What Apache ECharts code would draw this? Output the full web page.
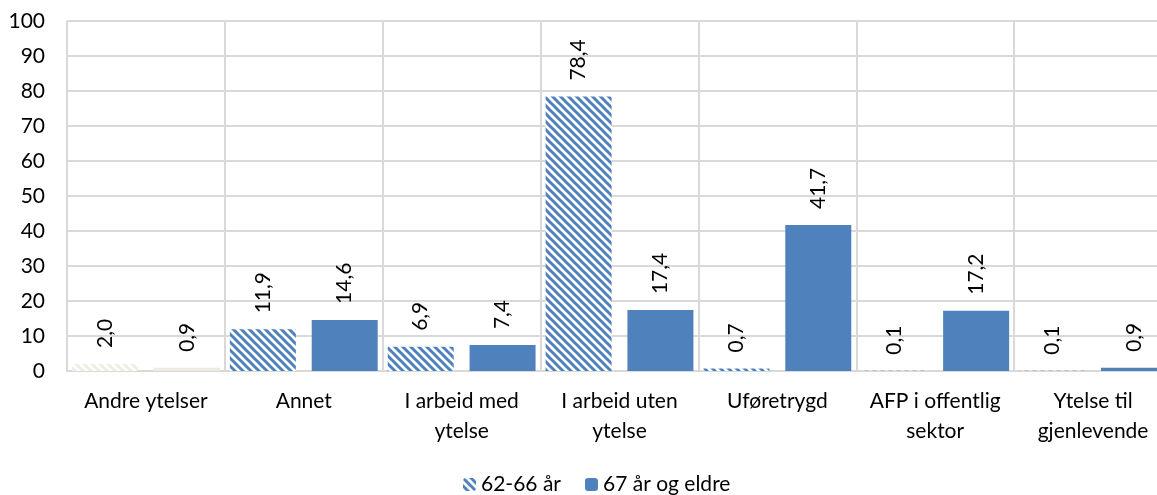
<!DOCTYPE html>
<html>
<head>
<meta charset="utf-8">
<script src="https://cdn.jsdelivr.net/npm/echarts@6/dist/echarts.min.js"></script>
<style>
  html, body { margin: 0; padding: 0; background: #fff; }
  #chart { width: 1157px; height: 495px; }
</style>
</head>
<body>
<div id="chart"></div>
<script>
const categories = ['Andre ytelser', 'Annet', 'I arbeid med\nytelse', 'I arbeid uten\nytelse', 'Uføretrygd', 'AFP i offentlig\nsektor', 'Ytelse til\ngjenlevende']
const seriesNames = ['62-66 år', '67 år og eldre']
const values6266 = [2.0, 11.9, 6.9, 78.4, 0.7, 0.1, 0.1]
const values67 = [0.9, 14.6, 7.4, 17.4, 41.7, 17.2, 0.9]
const yTicks = { min: 0, max: 100, interval: 10 }

const blue = '#4F81BD'
const beige = '#EEECE1'
const font = 'Lato, "Open Sans", sans-serif'
const fs = 21

// diagonal stripe pattern, like the Excel "wide downward diagonal"
function stripes(color) {
  const s = 8
  const c = document.createElement('canvas')
  c.width = s; c.height = s
  const ctx = c.getContext('2d')
  ctx.fillStyle = '#fff'
  ctx.fillRect(0, 0, s, s)
  ctx.strokeStyle = color
  ctx.lineWidth = 3
  ctx.beginPath()
  ctx.moveTo(-s, 0); ctx.lineTo(s, 2 * s)
  ctx.moveTo(0, 0); ctx.lineTo(s, s)
  ctx.moveTo(0, -s); ctx.lineTo(2 * s, s)
  ctx.stroke()
  return { image: c, repeat: 'repeat' }
}

const fmt = (p) => p.value.toFixed(1).replace('.', ',')

const label = {
  show: true,
  position: 'top',
  rotate: 90,
  align: 'left',
  verticalAlign: 'middle',
  distance: 16,
  color: '#000',
  fontSize: fs,
  fontFamily: font,
  formatter: fmt
}

const chart = echarts.init(document.getElementById('chart'))

chart.setOption({
  animation: false,
  grid: { left: 67, width: 1105, top: 21, bottom: 124, containLabel: false, outerBoundsMode: 'none' },
  legend: {
    top: 469,
    left: 458,
    itemWidth: 13,
    itemHeight: 13,
    itemGap: 24,
    textStyle: { fontSize: fs, fontFamily: font, color: '#000' },
    data: seriesNames
  },
  xAxis: {
    type: 'category',
    data: categories,
    axisLine: { lineStyle: { color: '#D9D9D9', width: 2 } },
    axisTick: { show: false },
    splitLine: { show: true, lineStyle: { color: '#D9D9D9', width: 2 } },
    axisLabel: { fontSize: fs, fontFamily: font, color: '#000', margin: 15, lineHeight: 30, interval: 0 }
  },
  yAxis: {
    type: 'value',
    min: yTicks.min,
    max: yTicks.max,
    interval: yTicks.interval,
    axisLine: { show: false },
    axisTick: { show: false },
    splitLine: { lineStyle: { color: '#D9D9D9', width: 2 } },
    axisLabel: { fontSize: fs, fontFamily: font, color: '#000', margin: 22 }
  },
  series: [
    {
      name: seriesNames[0],
      type: 'bar',
      barWidth: 66,
      barGap: '24%',
      itemStyle: { color: stripes(blue) },
      label: label,
      data: values6266.map((v, i) => i === 0 ? { value: v, itemStyle: { color: stripes(beige) } } : v)
    },
    {
      name: seriesNames[1],
      type: 'bar',
      barWidth: 66,
      barGap: '24%',
      itemStyle: { color: blue },
      label: label,
      data: values67.map((v, i) => i === 0 ? { value: v, itemStyle: { color: beige } } : v)
    }
  ]
})
</script>
</body>
</html>
